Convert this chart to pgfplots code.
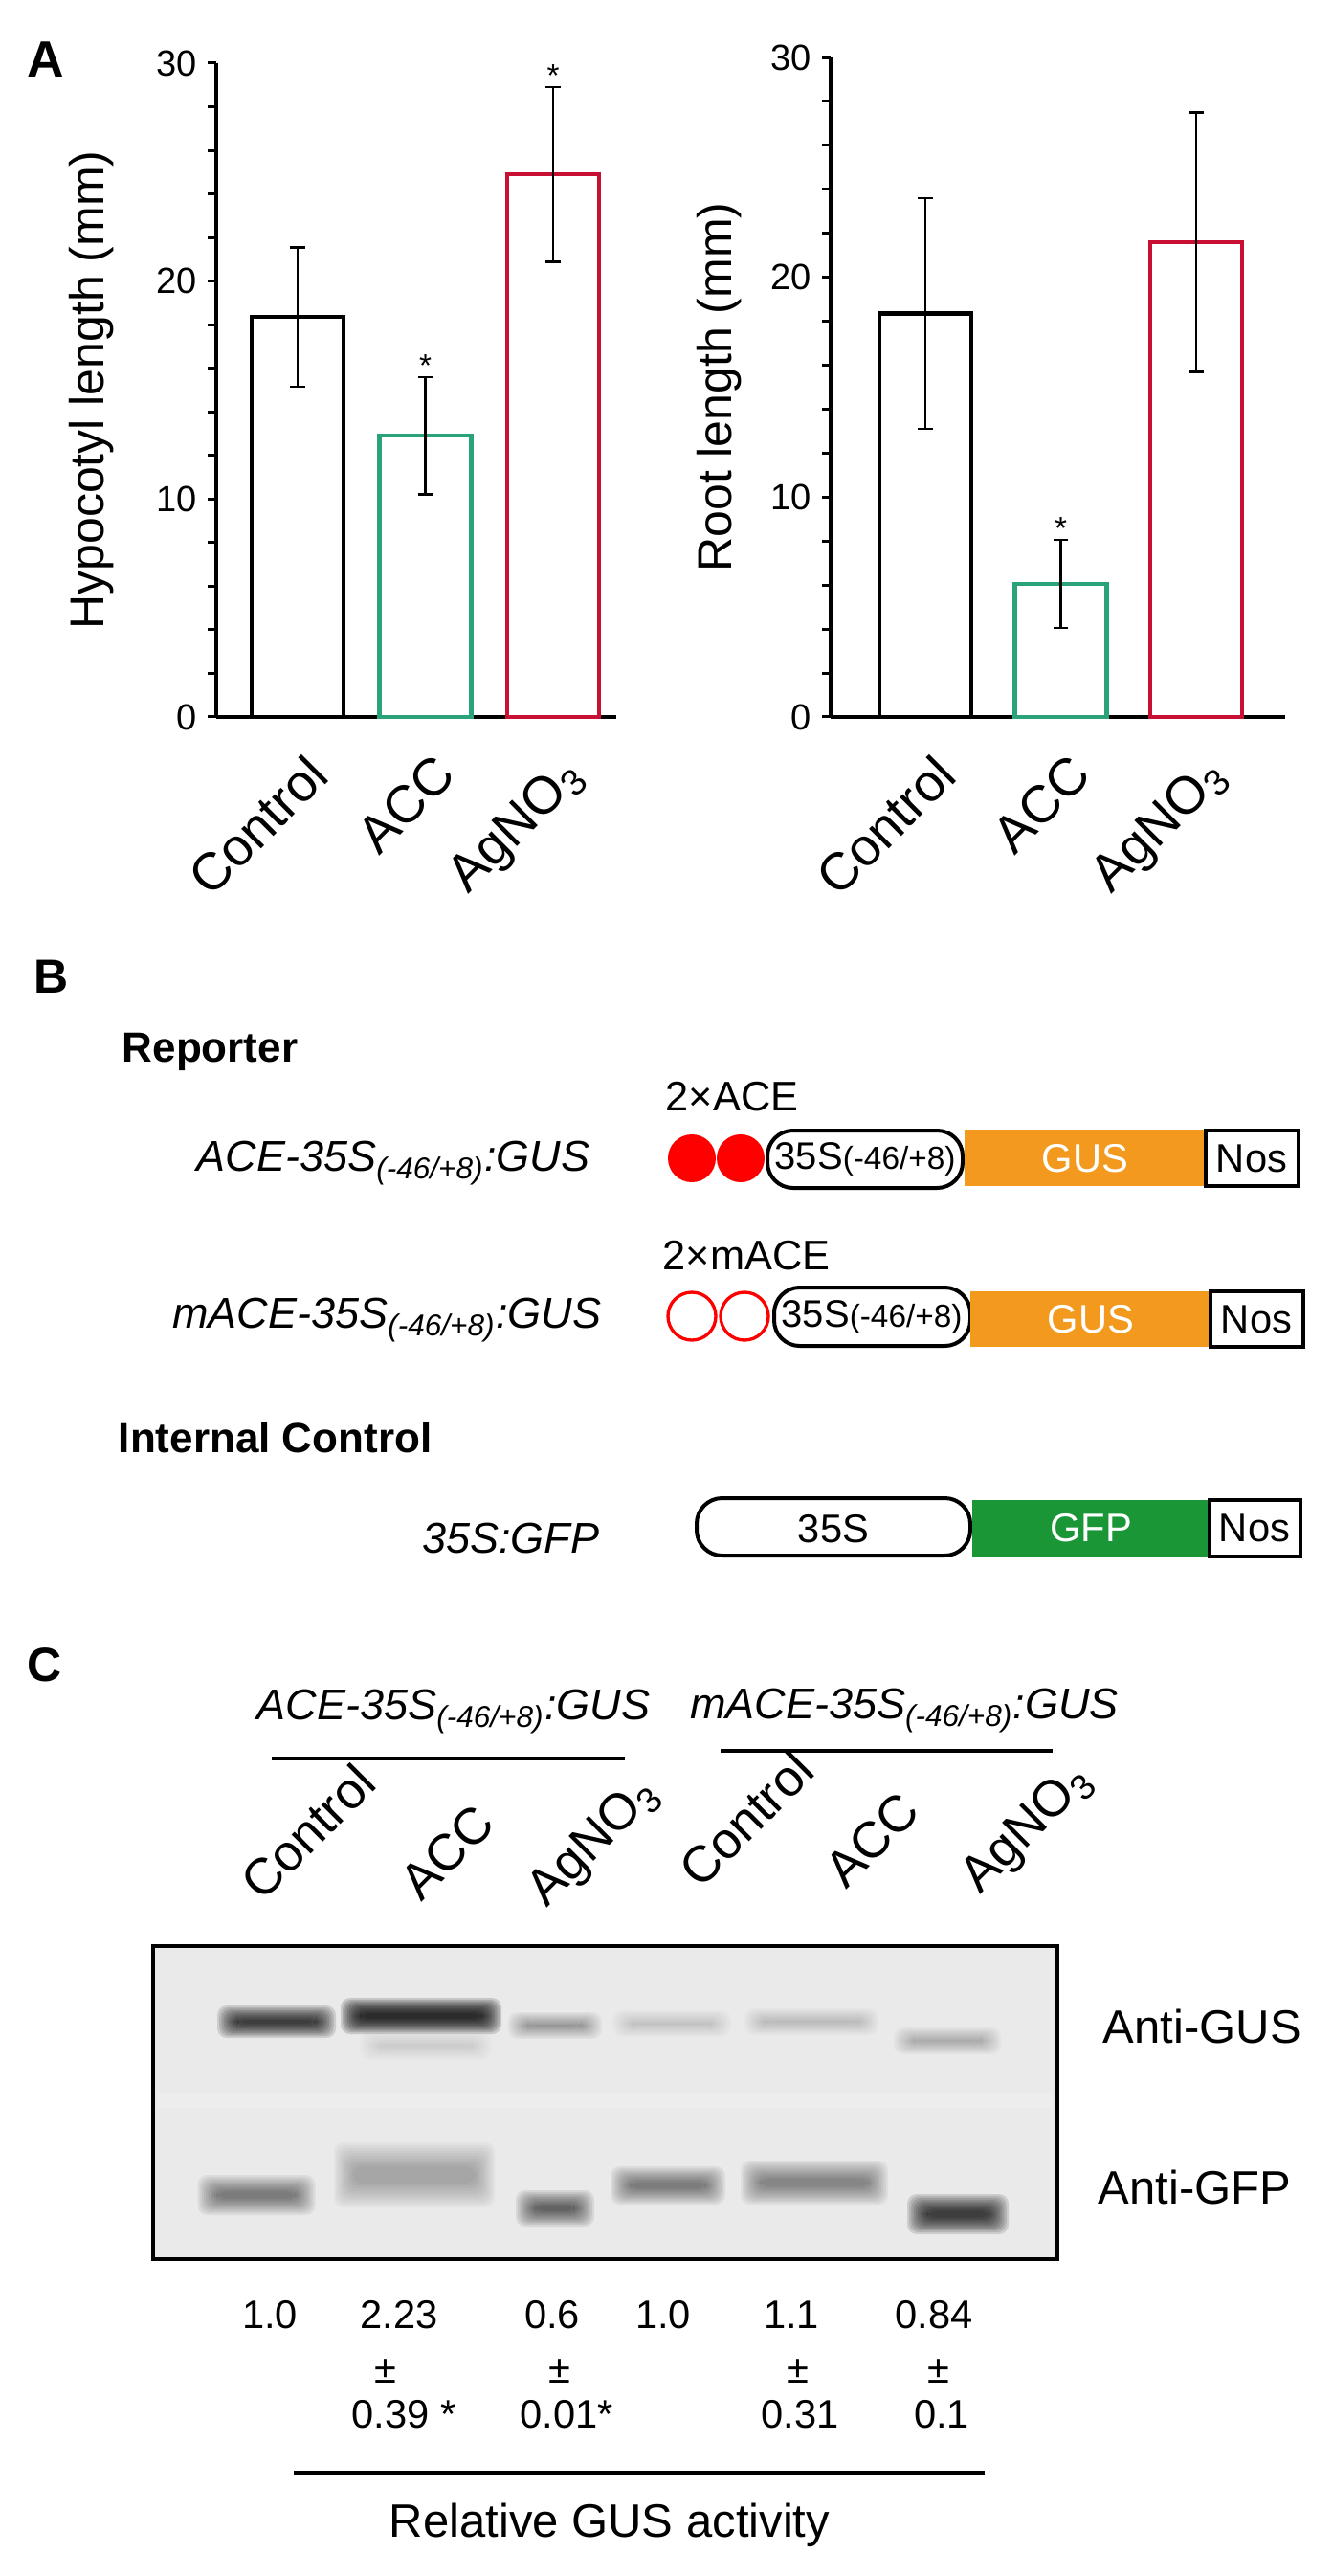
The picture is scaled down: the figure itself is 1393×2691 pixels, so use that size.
\documentclass[border=0pt]{standalone}
\usepackage{pgfplots}
\pgfplotsset{compat=1.18}
\usepackage{fontspec}
\setmainfont{Liberation Sans}
\definecolor{bargreen}{RGB}{42,163,125}
\definecolor{barred}{RGB}{200,16,52}
\definecolor{gusorange}{RGB}{243,154,30}
\definecolor{gfpgreen}{RGB}{26,150,55}
\definecolor{blotbg}{RGB}{234,234,234}
\newcommand{\fs}[1]{\fontsize{#1pt}{#1pt}\selectfont}
% blurred band: cx cy w h strength
\newcommand{\band}[5]{%
  \pgfmathsetmacro{\op}{#5*0.11}%
  \foreach \i in {0,...,9}{%
    \pgfmathsetmacro{\hw}{#3/2+14*(1-\i/9)-6*\i/9}%
    \pgfmathsetmacro{\hh}{#4/2+12*(1-\i/9)-0.3*#4*\i/9}%
    \fill[black, opacity=\op, rounded corners=3pt] ({#1-\hw},{#2-\hh}) rectangle ({#1+\hw},{#2+\hh});
  }}
\pgfplotsset{
  panelA/.style={
    scale only axis, anchor=south west, clip=false,
    ymin=0, ymax=30,
    axis x line=bottom, axis y line=left,
    axis line style={-, line width=1pt, black},
    xtick={0,1,2}, xticklabels={Control,ACC,AgNO\textsubscript{3}},
    x tick style={draw=none},
    ytick={0,10,20,30}, minor ytick={2,4,6,8,12,14,16,18,22,24,26,28},
    tick align=outside, major tick length=2.6pt, minor tick length=2.6pt,
    y tick style={line width=0.9pt, black},
    /pgf/number format/assume math mode=true,
    yticklabel style={font=\fs{11.4}},
    xticklabel style={font=\fs{16.5}, xshift=2pt, yshift=-8pt, rotate=45, anchor=north east, inner sep=0pt},
  },
  mybar/.style={ybar, bar shift=0pt, fill=white, line width=1.3pt,
    error bars/y dir=both, error bars/y explicit,
    error bars/error bar style={line width=0.8pt, black},
    error bars/error mark options={rotate=90, mark size=2.3pt, line width=0.8pt, black}},
}
\begin{document}
\begin{tikzpicture}
\begin{scope}[x=0.3pt,y=-0.3pt]
\path (0,0) rectangle (1393,2691);
% panel letters
\node[font=\bfseries\fs{16}] at (48,62) {A};
\node[font=\bfseries\fs{15}] at (54,1020) {B};
\node[font=\bfseries\fs{15}] at (47,1739) {C};
% ---------- panel B ----------
\node[font=\bfseries\fs{13.2}, anchor=west] at (116,1099) {Reporter};
\node[font=\bfseries\fs{13.2}, anchor=west] at (112,1502) {Internal Control};
\node[font=\itshape\fs{13.5}, anchor=east] at (628,1215) {ACE-35S\textsubscript{(-46/+8)}:GUS};
\node[font=\itshape\fs{13.5}, anchor=east] at (640,1379) {mACE-35S\textsubscript{(-46/+8)}:GUS};
\node[font=\itshape\fs{13.5}, anchor=east] at (638,1607) {35S:GFP};
\node[font=\fs{13}, anchor=west] at (684,1146) {2×ACE};
\node[font=\fs{13}, anchor=west] at (681,1312) {2×mACE};
% row 1
\fill[red] (723,1210) circle[radius=25];
\fill[red] (774,1210) circle[radius=25];
\draw[line width=1.2pt, fill=white, rounded corners=8pt] (802,1181) rectangle (1006,1241);
\node[font=\fs{12}] at (904,1211) {35S{\fs{10}(-46/+8)}};
\fill[gusorange] (1008,1180) rectangle (1260,1239);
\node[font=\fs{12.5}, text=white] at (1134,1210) {GUS};
\draw[line width=1.1pt, fill=white] (1260,1181) rectangle (1357,1239);
\node[font=\fs{12.5}] at (1308,1210) {Nos};
% row 2
\draw[red, line width=1pt] (723,1375) circle[radius=25];
\draw[red, line width=1pt] (778,1375) circle[radius=25];
\draw[line width=1.2pt, fill=white, rounded corners=8pt] (809,1345) rectangle (1014,1406);
\node[font=\fs{12}] at (911,1376) {35S{\fs{10}(-46/+8)}};
\fill[gusorange] (1014,1349) rectangle (1265,1407);
\node[font=\fs{12.5}, text=white] at (1140,1378) {GUS};
\draw[line width=1.1pt, fill=white] (1265,1349) rectangle (1362,1407);
\node[font=\fs{12.5}] at (1313,1378) {Nos};
% row 3
\draw[line width=1.2pt, fill=white, rounded corners=8pt] (728,1565) rectangle (1014,1625);
\node[font=\fs{12.5}] at (871,1597) {35S};
\fill[gfpgreen] (1016,1567) rectangle (1264,1626);
\node[font=\fs{12.5}, text=white] at (1140,1596) {GFP};
\draw[line width=1.1pt, fill=white] (1264,1567) rectangle (1359,1626);
\node[font=\fs{12.5}] at (1311,1596) {Nos};
% ---------- panel C ----------
\node[font=\itshape\fs{13.5}] at (474,1788) {ACE-35S\textsubscript{(-46/+8)}:GUS};
\node[font=\itshape\fs{13.5}] at (945,1787) {mACE-35S\textsubscript{(-46/+8)}:GUS};
\draw[line width=1.35pt] (284,1837) -- (653,1837);
\draw[line width=1.35pt] (753,1829) -- (1100,1829);
\node[font=\fs{16}, rotate=45, anchor=base west] at (266,1996) {Control};
\node[font=\fs{16}, rotate=45, anchor=base west] at (432,1996) {ACC};
\node[font=\fs{16}, rotate=45, anchor=base west] at (563,2002) {AgNO\textsubscript{3}};
\node[font=\fs{16}, rotate=45, anchor=base west] at (724,1983) {Control};
\node[font=\fs{16}, rotate=45, anchor=base west] at (876,1983) {ACC};
\node[font=\fs{16}, rotate=45, anchor=base west] at (1016,1988) {AgNO\textsubscript{3}};
% blot
\fill[blotbg] (160,2033) rectangle (1105,2360);
\fill[white, opacity=0.15] (165,2186) rectangle (1100,2202);
\band{289}{2112}{96}{10}{1.1}
\band{440}{2106}{140}{14}{1.35}
\band{445}{2137}{110}{6}{0.12}
\band{580}{2116}{70}{4}{0.35}
\band{702}{2114}{96}{4}{0.15}
\band{848}{2112}{112}{4}{0.18}
\band{990}{2132}{84}{4}{0.25}
\band{268}{2293}{95}{18}{0.55}
\band{433}{2272}{140}{44}{0.28}
\band{580}{2307}{54}{14}{0.7}
\band{698}{2283}{92}{16}{0.55}
\band{851}{2280}{126}{22}{0.45}
\band{1001}{2313}{78}{18}{1.1}
\draw[line width=1.2pt] (160,2033) rectangle (1105,2360);
\node[font=\fs{14.7}, anchor=west] at (1141,2117) {Anti-GUS};
\node[font=\fs{14.7}, anchor=west] at (1136,2285) {Anti-GFP};
% relative activity values
\begin{scope}[every node/.style={font=\fs{12.5}}]
\node at (282,2418) {1.0};
\node at (417,2418) {2.23};
\node at (403,2477) {±};
\node at (422,2522) {0.39 *};
\node at (577,2418) {0.6};
\node at (585,2477) {±};
\node at (592,2522) {0.01*};
\node at (693,2418) {1.0};
\node at (827,2418) {1.1};
\node at (834,2477) {±};
\node at (836,2522) {0.31};
\node at (976,2418) {0.84};
\node at (981,2477) {±};
\node at (984,2522) {0.1};
\end{scope}
\draw[line width=1.5pt] (307,2583) -- (1029,2583);
\node[font=\fs{14.7}] at (637,2638) {Relative GUS activity};
\end{scope}
% ---------- panel A, left ----------
\begin{axis}[panelA,
  at={(67.8pt,-224.7pt)}, width=125.4pt, height=204.9pt,
  xmin=-0.637, xmax=2.494,
  ylabel={Hypocotyl length (mm)},
  every axis y label/.style={at={(axis description cs:-0.311,0.5)}, rotate=90, anchor=center, font=\fs{15}},
]
\addplot[draw=black, bar width=0.72, mybar] coordinates {(0,18.35) +- (0,3.2)};
\addplot[draw=bargreen, bar width=0.72, mybar] coordinates {(1,12.9) +- (0,2.7)};
\addplot[draw=barred, bar width=0.72, mybar] coordinates {(2,24.9) +- (0,4.0)};
\node[font=\fs{10}, anchor=south, inner sep=0pt] at (axis cs:1,15.6) {*};
\node[font=\fs{10}, anchor=south, inner sep=0pt] at (axis cs:2,28.9) {*};
\end{axis}
% ---------- panel A, right ----------
\begin{axis}[panelA,
  at={(260.4pt,-224.7pt)}, width=142.5pt, height=206.7pt,
  xmin=-0.70, xmax=2.657,
  ylabel={Root length (mm)},
  every axis y label/.style={at={(axis description cs:-0.246,0.5)}, rotate=90, anchor=center, font=\fs{15}},
]
\addplot[draw=black, bar width=0.68, mybar] coordinates {(0,18.35) +- (0,5.25)};
\addplot[draw=bargreen, bar width=0.68, mybar] coordinates {(1,6.05) +- (0,2.0)};
\addplot[draw=barred, bar width=0.68, mybar] coordinates {(2,21.6) +- (0,5.9)};
\node[font=\fs{10}, anchor=south, inner sep=0pt] at (axis cs:1,8.05) {*};
\end{axis}
\end{tikzpicture}
\end{document}
